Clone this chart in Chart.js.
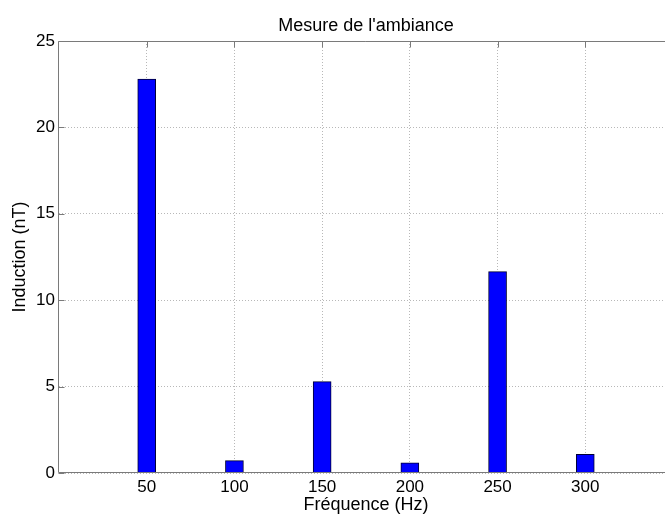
<!DOCTYPE html>
<html><head><meta charset="utf-8">
<script src="https://cdn.jsdelivr.net/npm/chart.js@4/dist/chart.umd.min.js"></script>
<style>html,body{margin:0;padding:0;overflow:hidden;background:#fff;width:665px;height:516px}#wrap{width:665px;height:516px;overflow:hidden;position:relative}canvas{display:block}</style>
</head><body>
<div id="wrap"><canvas id="c" width="680" height="516"></canvas></div>
<script>
const frequencies = [50, 100, 150, 200, 250, 300];
const induction = [22.8, 0.72, 5.29, 0.59, 11.65, 1.08];
const xTicks = [50, 100, 150, 200, 250, 300];
const yTicks = [0, 5, 10, 15, 20, 25];
const titleText = "Mesure de l'ambiance";
const xTitle = "Fréquence (Hz)";
const yTitle = "Induction (nT)";

const FONT = "'Liberation Sans', Arial, Helvetica, sans-serif";
const AXIS_COLOR = '#7a7a7a';

function edges(chart) {
  const a = chart.chartArea;
  return {
    a,
    L: Math.round(a.left) - 0.5, R: Math.round(a.right) - 0.5,
    T: Math.round(a.top) + 0.5, B: Math.round(a.bottom) - 0.5
  };
}

const framePlugin = {
  id: 'frame',
  beforeDatasetsDraw(chart) {
    const ctx = chart.ctx;
    const { L, R, T, B } = edges(chart);
    const xs = chart.scales.x, ys = chart.scales.y;
    const tl = 6;
    ctx.save();
    ctx.strokeStyle = AXIS_COLOR;
    ctx.lineWidth = 1;
    ctx.beginPath();
    xTicks.forEach(v => {
      const px = Math.round(xs.getPixelForValue(v)) + 0.5;
      ctx.moveTo(px, B); ctx.lineTo(px, B - tl);
      ctx.moveTo(px, T); ctx.lineTo(px, T + tl);
    });
    yTicks.forEach(v => {
      const py = Math.round(ys.getPixelForValue(v)) + 0.5;
      ctx.moveTo(L, py); ctx.lineTo(L + tl, py);
      ctx.moveTo(R, py); ctx.lineTo(R - tl, py);
    });
    ctx.stroke();
    ctx.restore();
  },
  afterDatasetsDraw(chart) {
    const ctx = chart.ctx;
    const { a, L, R, T, B } = edges(chart);
    ctx.save();
    ctx.strokeStyle = AXIS_COLOR;
    ctx.lineWidth = 1;
    ctx.beginPath();
    ctx.moveTo(L, T); ctx.lineTo(R, T);
    ctx.moveTo(L, T); ctx.lineTo(L, B);
    ctx.moveTo(L, B); ctx.lineTo(R, B);
    ctx.moveTo(R, T); ctx.lineTo(R, B);
    ctx.stroke();
    ctx.fillStyle = '#000';
    ctx.font = '18px ' + FONT;
    ctx.textAlign = 'center';
    ctx.textBaseline = 'middle';
    ctx.fillText(titleText, (a.left + a.right) / 2, 26);
    ctx.restore();
  }
};

new Chart(document.getElementById('c'), {
  type: 'bar',
  data: {
    datasets: [{
      data: frequencies.map((f, i) => ({ x: f, y: induction[i] })),
      backgroundColor: '#0000ff',
      borderColor: '#000033',
      borderWidth: 1,
      borderSkipped: 'bottom',
      barThickness: 18
    }]
  },
  options: {
    responsive: false,
    animation: false,
    devicePixelRatio: 1,
    layout: { padding: { left: 0, top: 41, right: 7, bottom: 0 } },
    plugins: { legend: { display: false }, tooltip: { enabled: false } },
    scales: {
      x: {
        type: 'linear',
        offset: false,
        min: 0, max: 350,
        afterBuildTicks: s => { s.ticks = xTicks.map(v => ({ value: v })); },
        afterFit: s => { s.height = 43; },
        ticks: { color: '#000', font: { family: FONT, size: 17 }, padding: 4, maxRotation: 0, autoSkip: false },
        grid: { offset: false, color: '#b8b8b8', drawTicks: false, lineWidth: 1 },
        border: { display: false, dash: [1, 2] },
        title: { display: true, text: xTitle, color: '#000', font: { family: FONT, size: 18 }, padding: { top: 0, bottom: 0.5 } }
      },
      y: {
        min: 0, max: 25,
        afterBuildTicks: s => { s.ticks = yTicks.map(v => ({ value: v })); },
        afterFit: s => { s.width = 59; },
        ticks: { color: '#000', font: { family: FONT, size: 17 }, padding: 4 },
        grid: { color: '#b8b8b8', drawTicks: false, lineWidth: 1 },
        border: { display: false, dash: [1, 2] },
        title: { display: true, text: yTitle, color: '#000', font: { family: FONT, size: 18 }, padding: { top: 9, bottom: 0 } }
      }
    }
  },
  plugins: [framePlugin]
});
</script>
</body></html>
